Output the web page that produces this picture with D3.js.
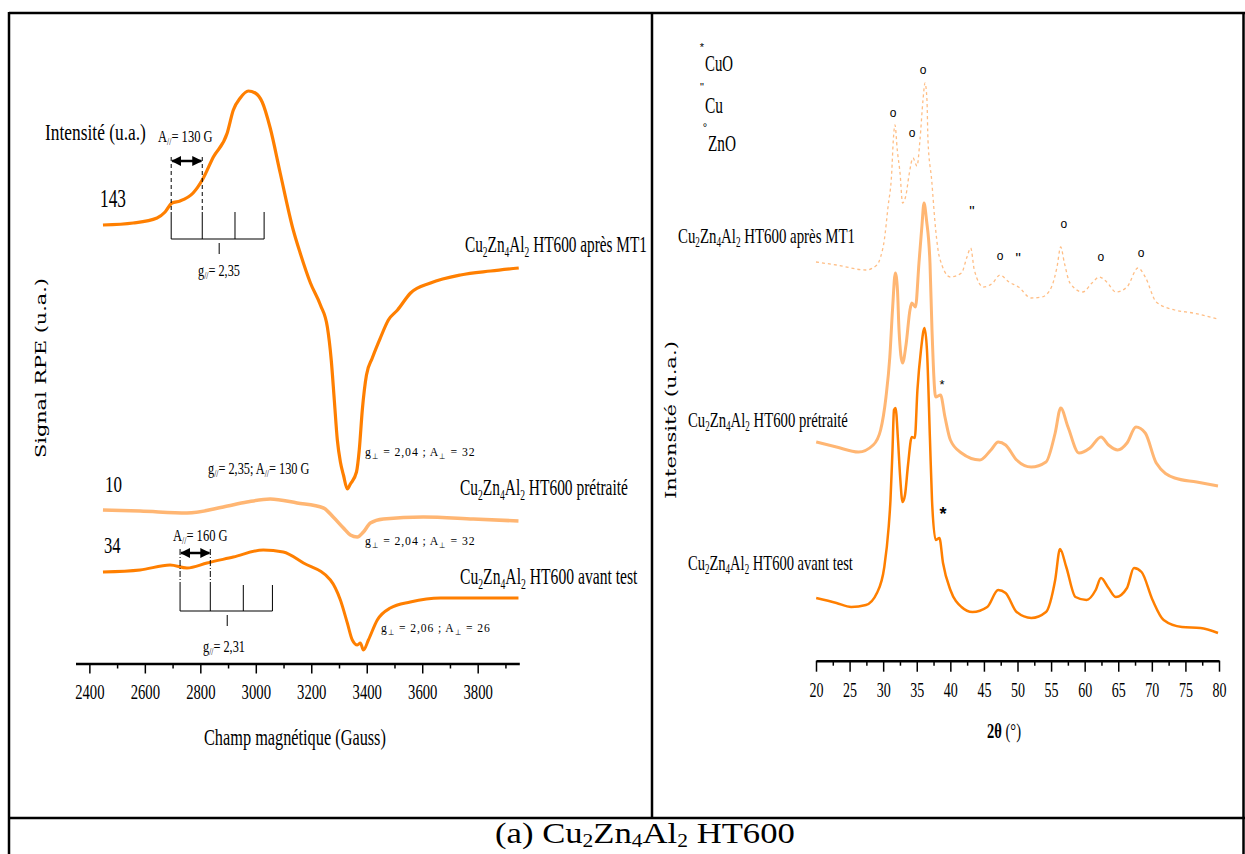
<!DOCTYPE html>
<html><head><meta charset="utf-8">
<script src="https://cdn.jsdelivr.net/npm/d3@7"></script>
<style>html,body{margin:0;padding:0;background:#fff;} svg{display:block;}</style>
</head><body>
<svg id="c" width="1245" height="854"></svg>
<script>
// ================= DATA =================
// EPR (left panel): field in Gauss, signal in arbitrary units (offset curves)
const eprField_MT1 = [2449,2558,2644,2673,2698,2727,2774,2807,2847,2897,2919,2944,2973,2998,3023,3052,3088,3135,3160,3197,3233,3258,3272,3283,3294,3305,3316,3330,3341,3363,3373,3384,3399,3420,3449,3478,3511,3558,3630,3738,3847,3948];
const eprSignal_MT1 = [439,441,446,452,461,463,471,484,507,531,554,566,573,571,562,536,491,434,411,381,359,337,304,264,224,202,189,175,180,192,214,254,289,306,326,344,354,371,381,389,393,396];
const eprField_pre = [2449,2583,2752,2883,2968,3052,3149,3244,3279,3316,3341,3366,3388,3413,3460,3604,3784,3947];
const eprSignal_pre = [154,153,151,157,162,165,161,156,147,136,129,127,132,141,145,147,145,143];
const eprField_avant = [2449,2583,2691,2752,2824,2919,3027,3099,3172,3269,3305,3330,3348,3366,3377,3388,3406,3438,3485,3557,3666,3947];
const eprSignal_avant = [92,94,99,96,101,107,114,112,101,84,64,41,24,19,21,14,24,44,56,62,66,66];
const eprTicks = [2400,2600,2800,3000,3200,3400,3600,3800];
const eprMinorTicks = [2500,2700,2900,3100,3300,3500,3700,3900];
// hyperfine stick diagrams (field positions)
const sticks_MT1 = [2695,2807,2925,3030];
const gPar_MT1 = 2868;
const sticks_avant = [2727,2836,2955,3060];
const gPar_avant = 2897;

// XRD (right panel): 2theta in degrees, intensity in arbitrary units (offset curves)
const xrdTheta_MT1 = [20.0,23.05,27.43,29.07,29.62,30.17,30.72,31.27,31.51,31.76,32.10,32.51,32.89,33.40,33.85,34.44,35.04,35.48,35.93,36.23,36.52,36.67,37.22,37.82,38.37,40.01,41.66,42.48,43.03,43.57,44.94,46.31,47.39,48.73,50.15,52.01,53.65,55.06,55.88,56.43,56.98,57.81,59.72,61.09,62.18,63.28,64.65,66.30,67.94,69.02,70.66,73.40,76.13,79.85];
const xrdInt_MT1 = [398,395,390,395,403,420,453,487,520,535,510,487,457,465,485,502,494,520,560,577,560,520,480,430,403,383,387,403,412,390,373,377,385,378,373,362,363,373,393,413,397,377,368,377,383,378,368,373,392,383,358,350,347,341];
const xrdTheta_pre = [20.03,23.05,26.33,28.52,29.62,30.42,30.99,31.39,31.81,32.13,32.36,32.89,33.40,33.99,34.26,34.81,35.33,35.78,36.08,36.45,36.97,37.27,37.82,38.54,39.20,40.01,41.66,44.40,46.04,47.13,48.23,49.87,52.05,54.24,55.61,56.43,57.52,59.15,60.79,62.43,63.55,64.92,66.30,67.64,69.02,70.66,73.40,76.69,79.85];
const xrdInt_pre = [218,213,208,215,230,263,303,350,387,370,330,297,315,350,357,353,397,435,457,440,397,330,263,265,243,220,207,200,210,218,215,200,193,198,227,252,233,207,212,223,215,210,217,233,227,197,182,178,174];
const xrdTheta_avant = [20.03,23.05,25.24,27.43,29.07,30.17,30.82,31.09,31.39,31.61,31.84,32.21,32.51,32.89,33.25,33.70,34.26,34.71,35.10,35.63,36.15,36.52,36.97,37.27,37.82,38.37,38.91,40.01,41.66,43.30,45.49,47.13,48.23,49.87,52.05,54.24,55.61,56.33,57.26,58.63,60.27,61.64,62.43,63.55,64.65,66.30,67.34,68.47,70.11,71.76,74.49,77.23,79.85];
const xrdInt_avant = [62,57,53,55,67,93,133,160,210,250,252,220,185,158,165,195,223,222,270,310,332,310,220,160,120,122,97,70,53,48,53,70,67,48,42,48,80,111,93,63,60,70,82,72,63,72,92,88,60,40,33,32,27];
const xrdTicks = [20,25,30,35,40,45,50,55,60,65,70,75,80];
const xrdMinorTicks = [22.5,27.5,32.5,37.5,42.5,47.5,52.5,57.5,62.5,67.5,72.5,77.5];
// phase markers on XRD
const markTheta = [31.46,34.29,35.93,43.2,47.4,50.1,56.9,62.4,68.4,38.76,38.9];
const markInt   = [547,527,590,450,404,403,436,403,407,276,146];
const markSym   = ['o','o','o','"','o','"','o','o','o','*','*'];

// ================= DRAWING =================
const svg = d3.select('#c');
const DARK = '#FF7F00', LIGHT = '#FFB673', DOT = '#FFBE85';

svg.append('defs').append('marker').attr('id','ah').attr('viewBox','0 0 10 10')
  .attr('refX',9).attr('refY',5).attr('markerWidth',4).attr('markerHeight',4)
  .attr('orient','auto-start-reverse').attr('markerUnits','strokeWidth')
  .append('path').attr('d','M0,0 L10,5 L0,10 z').attr('fill','#000');

function rich(parent, str, o) {
  const t = parent.append('text').attr('font-family', o.font || 'Liberation Serif')
    .attr('font-size', o.size).attr('fill', '#000');
  if (o.ls) t.attr('letter-spacing', o.ls);
  if (o.weight) t.attr('font-weight', o.weight);
  const re = /([_^!])\{([^}]*)\}/g;
  let last = 0, m, shift = 0;
  const subShift = o.sub || 0.2;
  const add = (txt, kind) => {
    const ts = t.append('tspan').text(txt);
    let target = 0;
    if (kind === '_') { ts.attr('font-size', o.size * 0.62); target = o.size * subShift; }
    else if (kind === '^') { ts.attr('font-size', o.size * 0.6); target = -o.size * 0.42; }
    else if (kind === '!') { ts.attr('font-weight', 'bold'); }
    const dy = target - shift;
    if (dy !== 0) ts.attr('dy', dy);
    shift = target;
  };
  while ((m = re.exec(str))) {
    if (m.index > last) add(str.slice(last, m.index), 'n');
    add(m[2], m[1]);
    last = re.lastIndex;
  }
  if (last < str.length) add(str.slice(last), 'n');
  const bb = t.node().getBBox();
  const sx = o.width ? o.width / bb.width : (o.sx || 1);
  let left = o.x;
  if (o.anchor === 'middle') left = o.x - bb.width * sx / 2;
  t.attr('transform', `translate(${left - bb.x * sx},${o.y}) scale(${sx},1)`);
  return t;
}

// ---------- frame ----------
const fr = svg.append('g').attr('stroke', '#000').attr('stroke-width', 2.5).attr('fill', 'none');
fr.append('line').attr('x1', 9).attr('y1', 13).attr('x2', 1245).attr('y2', 13);
fr.append('line').attr('x1', 9).attr('y1', 12).attr('x2', 9).attr('y2', 854);
fr.append('line').attr('x1', 1243.5).attr('y1', 12).attr('x2', 1243.5).attr('y2', 854);
fr.append('line').attr('x1', 652).attr('y1', 13).attr('x2', 652).attr('y2', 818);
fr.append('line').attr('x1', 9).attr('y1', 818).attr('x2', 1245).attr('y2', 818);

rich(svg, '(a)  Cu_{2}Zn_{4}Al_{2} HT600', {x: 645, y: 843, size: 30, width: 300, anchor: 'middle', sub: 0.14});

// ---------- left panel: EPR ----------
const xE = d3.scaleLinear().domain([2350, 3950]).range([75.5, 519.3]);
const yE = d3.scaleLinear().domain([0, 600]).range([664, 64]);
const L = svg.append('g');

const axE = L.append('g').attr('transform', 'translate(0,663.5)')
  .call(d3.axisBottom(xE).tickValues(eprTicks).tickSize(10).tickSizeOuter(0).tickFormat(d => d));
axE.select('.domain').attr('stroke-width', 2.5);
axE.selectAll('.tick line').attr('stroke-width', 1.5);
axE.selectAll('.tick text').attr('font-family', 'Liberation Serif').attr('font-size', 21)
  .attr('y', 21).attr('transform', 'scale(0.7,1)').attr('fill', '#000');
const axE2 = L.append('g').attr('transform', 'translate(0,663.5)')
  .call(d3.axisBottom(xE).tickValues(eprMinorTicks).tickSize(5).tickFormat(''));
axE2.select('.domain').remove();
axE2.selectAll('.tick line').attr('stroke-width', 1.5);

rich(L, 'Champ magnétique (Gauss)', {x: 204, y: 745, size: 23, width: 182});
const ylab = L.append('g').attr('transform', 'translate(46,368) rotate(-90)');
rich(ylab, 'Signal RPE (u.a.)', {x: 0, y: 0, size: 15, width: 180, anchor: 'middle', font: 'DejaVu Serif'});

const lineE = d3.line().x(d => xE(d[0])).y(d => yE(d[1])).curve(d3.curveMonotoneX);
const zip = (a, b) => a.map((v, i) => [v, b[i]]);
L.append('path').attr('d', lineE(zip(eprField_pre, eprSignal_pre))).attr('fill', 'none')
  .attr('stroke', LIGHT).attr('stroke-width', 3.5).attr('stroke-linejoin', 'round');
L.append('path').attr('d', lineE(zip(eprField_avant, eprSignal_avant))).attr('fill', 'none')
  .attr('stroke', DARK).attr('stroke-width', 3).attr('stroke-linejoin', 'round');
L.append('path').attr('d', lineE(zip(eprField_MT1, eprSignal_MT1))).attr('fill', 'none')
  .attr('stroke', DARK).attr('stroke-width', 3.2).attr('stroke-linejoin', 'round');

// stick diagrams and arrows
function sticks(fields, gc, yDash, yTop, yBar, dashStyle) {
  const g = L.append('g').attr('stroke', '#000');
  fields.forEach(f => g.append('line').attr('x1', xE(f)).attr('x2', xE(f)).attr('y1', yTop).attr('y2', yBar).attr('stroke-width', 1));
  g.append('line').attr('x1', xE(fields[0])).attr('x2', xE(fields[3])).attr('y1', yBar).attr('y2', yBar).attr('stroke-width', 1.2);
  g.append('line').attr('x1', xE(gc)).attr('x2', xE(gc)).attr('y1', yBar + 4).attr('y2', yBar + 15).attr('stroke-width', 1);
  [fields[0], fields[1]].forEach(f => g.append('line').attr('x1', xE(f)).attr('x2', xE(f)).attr('y1', yDash).attr('y2', yTop)
    .attr('stroke-width', 1).attr('stroke-dasharray', dashStyle));
  g.append('line').attr('x1', xE(fields[0]) + 1).attr('x2', xE(fields[1]) - 1).attr('y1', yDash + 4).attr('y2', yDash + 4)
    .attr('stroke-width', 2.5).attr('marker-start', 'url(#ah)').attr('marker-end', 'url(#ah)');
}
sticks(sticks_MT1, gPar_MT1, 157, 212, 239, '4,3');
sticks(sticks_avant, gPar_avant, 549, 585, 611, '6,2,1,2');

rich(L, 'Intensité (u.a.)', {x: 45, y: 140, size: 23, width: 101});
rich(L, '143', {x: 100, y: 207, size: 25, width: 26});
rich(L, 'A_{//}= 130 G', {x: 158, y: 142, size: 16, width: 55});
rich(L, 'g_{//}= 2,35', {x: 198, y: 276, size: 16, width: 42});
rich(L, 'Cu_{2}Zn_{4}Al_{2} HT600 après MT1', {x: 465, y: 252, size: 23, width: 182});
rich(L, 'g_{⊥} = 2,04 ; A_{⊥} = 32', {x: 365, y: 456, size: 13, ls: 1, width: 110});
rich(L, '10', {x: 105, y: 492, size: 23, width: 17});
rich(L, 'g_{//}= 2,35; A_{//}= 130 G', {x: 208, y: 474, size: 16, width: 102});
rich(L, 'Cu_{2}Zn_{4}Al_{2} HT600 prétraité', {x: 460, y: 495, size: 23, width: 168});
rich(L, 'g_{⊥} = 2,04 ; A_{⊥} = 32', {x: 365, y: 545, size: 13, ls: 1, width: 110});
rich(L, '34', {x: 104, y: 553, size: 23, width: 17});
rich(L, 'A_{//}= 160 G', {x: 173, y: 541, size: 16, width: 55});
rich(L, 'Cu_{2}Zn_{4}Al_{2} HT600 avant test', {x: 460, y: 584, size: 23, width: 178});
rich(L, 'g_{⊥} = 2,06 ; A_{⊥} = 26', {x: 381, y: 632, size: 13, ls: 1, width: 109});
rich(L, 'g_{//}= 2,31', {x: 203, y: 652, size: 16, width: 42});

// ---------- right panel: XRD ----------
const xX = d3.scaleLinear().domain([20, 80]).range([816, 1219]);
const yX = d3.scaleLinear().domain([0, 600]).range([660, 60]);
const R = svg.append('g');

const axX = R.append('g').attr('transform', 'translate(0,660.7)')
  .call(d3.axisBottom(xX).tickValues(xrdTicks).tickSize(11).tickSizeOuter(0).tickFormat(d => d));
axX.select('.domain').attr('stroke-width', 2.5);
axX.selectAll('.tick line').attr('stroke-width', 1.5);
axX.selectAll('.tick text').attr('font-family', 'Liberation Serif').attr('font-size', 20)
  .attr('y', 22).attr('transform', 'scale(0.7,1)').attr('fill', '#000');
const axX2 = R.append('g').attr('transform', 'translate(0,660.7)')
  .call(d3.axisBottom(xX).tickValues(xrdMinorTicks).tickSize(5).tickFormat(''));
axX2.select('.domain').remove();
axX2.selectAll('.tick line').attr('stroke-width', 1.5);

rich(R, '!{2θ} (°)', {x: 987, y: 738, size: 22, width: 34});
const ylab2 = R.append('g').attr('transform', 'translate(676,420) rotate(-90)');
rich(ylab2, 'Intensité (u.a.)', {x: 0, y: 0, size: 15, width: 158, anchor: 'middle', font: 'DejaVu Serif'});

const lineX = d3.line().x(d => xX(d[0])).y(d => yX(d[1])).curve(d3.curveMonotoneX);
R.append('path').attr('d', lineX(zip(xrdTheta_MT1, xrdInt_MT1))).attr('fill', 'none')
  .attr('stroke', DOT).attr('stroke-width', 1.3).attr('stroke-dasharray', '3,3');
R.append('path').attr('d', lineX(zip(xrdTheta_pre, xrdInt_pre))).attr('fill', 'none')
  .attr('stroke', LIGHT).attr('stroke-width', 3).attr('stroke-linejoin', 'round');
R.append('path').attr('d', lineX(zip(xrdTheta_avant, xrdInt_avant))).attr('fill', 'none')
  .attr('stroke', DARK).attr('stroke-width', 2.5).attr('stroke-linejoin', 'round');

markSym.forEach((s, i) => {
  const big = (i === markSym.length - 1);
  R.append('text').attr('x', xX(markTheta[i])).attr('y', yX(markInt[i]))
    .attr('text-anchor', 'middle').attr('dominant-baseline', 'central')
    .attr('font-family', 'Liberation Sans')
    .attr('font-size', s === 'o' ? 12 : (s === '*' ? (big ? 18 : 13) : 15))
    .attr('font-weight', big ? 'bold' : 'normal')
    .attr('fill', '#000').text(s);
});

// legend
const legMark = [['*', 702, 51], ['"', 702, 91], ['°', 705, 131]];
legMark.forEach(d => R.append('text').attr('x', d[1]).attr('y', d[2]).attr('text-anchor', 'middle')
  .attr('font-family', 'Liberation Sans').attr('font-size', 11).attr('fill', '#000').text(d[0]));
rich(R, 'CuO', {x: 705, y: 71, size: 24, width: 28});
rich(R, 'Cu', {x: 705, y: 113, size: 24, width: 18});
rich(R, 'ZnO', {x: 708, y: 151, size: 24, width: 28});

rich(R, 'Cu_{2}Zn_{4}Al_{2} HT600 après MT1', {x: 678, y: 243, size: 22, width: 177});
rich(R, 'Cu_{2}Zn_{4}Al_{2} HT600 prétraité', {x: 688, y: 427, size: 22, width: 160});
rich(R, 'Cu_{2}Zn_{4}Al_{2} HT600 avant test', {x: 688, y: 570, size: 22, width: 165});
</script>
</body></html>
